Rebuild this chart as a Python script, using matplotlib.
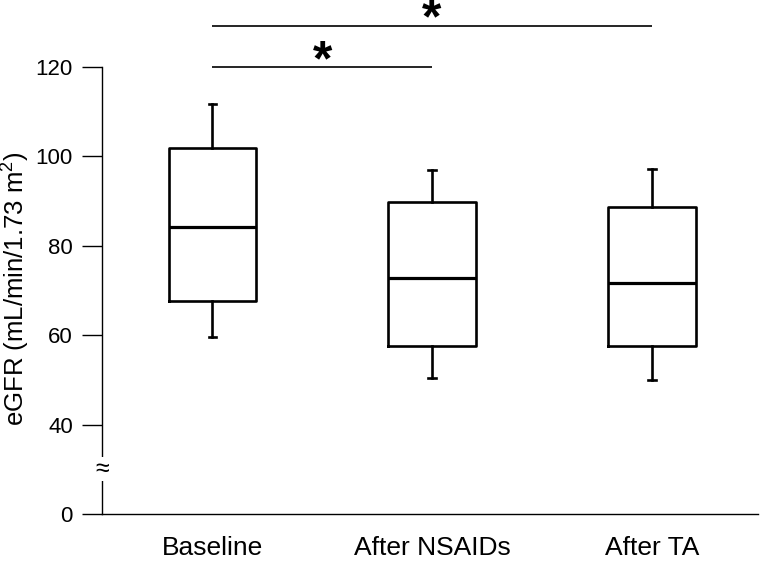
import matplotlib
matplotlib.use("Agg")
from matplotlib import pyplot as plt

# -- data (eGFR, mL/min/1.73 m2) ---------------------------------------------
groups = ["Baseline", "After NSAIDs", "After TA"]
whisker_low = [59.6, 50.4, 49.9]
q1 = [67.7, 57.6, 57.6]
median = [84.2, 72.9, 71.6]
q3 = [101.9, 89.8, 88.7]
whisker_high = [111.8, 97.0, 97.3]

# significance brackets: (from group, to group, height)
sig_pairs = [(0, 1, 120), (0, 2, 129.2)]

y_ticks = [0, 40, 60, 80, 100, 120]

# axis break: 0 is drawn at 20, everything >= 40 is drawn at its value
def to_axis(v):
    return v if v >= 40 else 20 + v / 2.0

plt.rcParams["font.family"] = ["Liberation Sans", "DejaVu Sans"]
plt.rcParams["mathtext.fontset"] = "custom"
plt.rcParams["mathtext.rm"] = "Liberation Sans"
plt.rcParams["mathtext.it"] = "Liberation Sans:italic"

fig = plt.figure(figsize=(7.65, 5.61), dpi=100)
ax = fig.add_axes((102 / 765, 47 / 561, 656 / 765, 514 / 561))

positions = list(range(1, len(groups) + 1))
stats = []
for i, name in enumerate(groups):
    stats.append({
        "label": name,
        "whislo": whisker_low[i],
        "q1": q1[i],
        "med": median[i],
        "q3": q3[i],
        "whishi": whisker_high[i],
        "fliers": [],
    })

ax.bxp(stats, positions=positions, widths=0.40, capwidths=0.036,
       showfliers=False,
       boxprops={"color": "black", "linewidth": 1.9},
       medianprops={"color": "black", "linewidth": 2.3},
       whiskerprops={"color": "black", "linewidth": 1.9},
       capprops={"color": "black", "linewidth": 1.9})

# significance lines and stars
for a, b, h in sig_pairs:
    ax.plot([positions[a], positions[b]], [h, h], color="black", lw=1.2,
            solid_capstyle="butt")
    ax.text((positions[a] + positions[b]) / 2, h - 4.0, "*", ha="center",
            va="bottom", fontsize=36, fontweight="bold")

ax.set_xlim(0.497, 3.484)
ax.set_ylim(20, 135)

ax.set_yticks([to_axis(v) for v in y_ticks])
ax.set_yticklabels([str(v) for v in y_ticks])
ax.tick_params(axis="y", direction="out", length=14.5, width=1.0,
               labelsize=16, pad=6.5)
ax.tick_params(axis="x", length=0, labelsize=19, pad=16)
ax.set_xticks(positions)
ax.set_xticklabels(groups)

for side in ["top", "right"]:
    ax.spines[side].set_visible(False)
ax.spines["left"].set_bounds(20, 120)
ax.spines["left"].set_linewidth(1.0)
ax.spines["bottom"].set_linewidth(1.0)

# break mark on the y axis
ax.text(0.497, 30, "\u2248", ha="center", va="center", fontsize=18,
        bbox={"facecolor": "white", "edgecolor": "none", "pad": 0.0},
        clip_on=False)

fig.text(16 / 765, 1 - 289 / 561, r"eGFR (mL/min/1.73 m$^2$)", rotation=90,
         ha="center", va="center", fontsize=18.5)

fig.savefig("out.png", dpi=100)
